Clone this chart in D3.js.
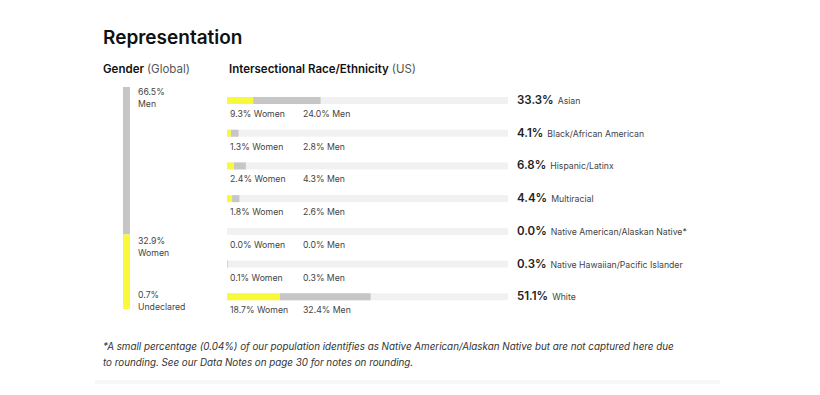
<!DOCTYPE html>
<html>
<head>
<meta charset="utf-8">
<script src="https://cdn.jsdelivr.net/npm/d3@7"></script>
<style>
  body { margin: 0; background: #fff; }
  svg { font-family: Inter, "Noto Sans", sans-serif; }
  .title { font-size: 19px; font-weight: 600; fill: #111; }
  .head { font-size: 11.5px; fill: #111; }
  .small { font-size: 8.7px; fill: #444; }
  .val { font-size: 11.5px; font-weight: 600; fill: #222; }
  .note { font-size: 9.8px; font-style: italic; fill: #333; }
</style>
</head>
<body>
<div id="chart"></div>
<script>
// gender (global)
var genderLabels = ["Men", "Women", "Undeclared"];
var genderValues = [66.5, 32.9, 0.7];

// race / ethnicity (US)
var races = ["Asian", "Black/African American", "Hispanic/Latinx", "Multiracial",
  "Native American/Alaskan Native*", "Native Hawaiian/Pacific Islander", "White"];
var women = [9.3, 1.3, 2.4, 1.8, 0.0, 0.1, 18.7];
var men = [24.0, 2.8, 4.3, 2.6, 0.0, 0.3, 32.4];
var totals = [33.3, 4.1, 6.8, 4.4, 0.0, 0.3, 51.1];

var width = 820, height = 395;
var yellow = "#f9f93c", gray = "#c6c6c6", track = "#f1f1f1";

var svg = d3.select("#chart").append("svg")
  .attr("width", width)
  .attr("height", height);

svg.append("rect").attr("x", 95).attr("y", 380).attr("width", 625).attr("height", 4)
  .attr("fill", "#f7f7f7");

svg.append("text").attr("class", "title").attr("x", 103).attr("y", 44).text("Representation");

var h1 = svg.append("text").attr("class", "head").attr("x", 103).attr("y", 73);
h1.append("tspan").attr("font-weight", 600).text("Gender ");
h1.append("tspan").attr("fill", "#555").text("(Global)");
var h2 = svg.append("text").attr("class", "head").attr("x", 229).attr("y", 73);
h2.append("tspan").attr("font-weight", 600).text("Intersectional Race/Ethnicity ");
h2.append("tspan").attr("fill", "#555").text("(US)");

// gender stacked vertical bar
var gy = d3.scaleLinear().domain([0, d3.sum(genderValues)]).range([87, 309]);
var acc = 0;
var gData = genderValues.map(function(v, i) {
  var d = {label: genderLabels[i], v: v, y0: acc};
  acc += v;
  return d;
});
svg.selectAll(".gbar").data(gData).enter().append("rect")
  .attr("class", "gbar")
  .attr("x", 123).attr("width", 7)
  .attr("y", function(d) { return gy(d.y0); })
  .attr("height", function(d) { return gy(d.y0 + d.v) - gy(d.y0); })
  .attr("fill", function(d, i) { return i == 0 ? gray : yellow; });

var labelY = [92, 241, 295];
var gl = svg.selectAll(".glab").data(gData).enter().append("text")
  .attr("class", "small")
  .attr("x", 138)
  .attr("y", function(d, i) { return labelY[i] + 3; });
gl.append("tspan").text(function(d) { return d.v.toFixed(1) + "%"; });
gl.append("tspan").attr("x", 138).attr("dy", 12).text(function(d) { return d.label; });

// race rows
var x = d3.scaleLinear().domain([0, 100]).range([227, 508]);
var y = d3.scaleBand().domain(races).range([84, 313]);

var rows = svg.selectAll(".row").data(races).enter().append("g")
  .attr("transform", function(d) { return "translate(0," + (y(d) + 13) + ")"; });

rows.append("rect").attr("x", x(0)).attr("y", 0).attr("height", 7)
  .attr("width", x(100) - x(0)).attr("fill", track);
rows.append("rect").attr("x", function(d, i) { return x(women[i]); }).attr("y", 0).attr("height", 7)
  .attr("width", function(d, i) { return x(women[i] + men[i]) - x(women[i]); }).attr("fill", gray);
rows.append("rect").attr("x", x(0)).attr("y", 0).attr("height", 7)
  .attr("width", function(d, i) { return x(women[i]) - x(0); }).attr("fill", yellow);

rows.append("text").attr("class", "small").attr("x", 230).attr("y", 20)
  .text(function(d, i) { return women[i].toFixed(1) + "% Women"; });
rows.append("text").attr("class", "small").attr("x", 303).attr("y", 20)
  .text(function(d, i) { return men[i].toFixed(1) + "% Men"; });

var rl = rows.append("text").attr("x", 517).attr("y", 7);
rl.append("tspan").attr("class", "val").text(function(d, i) { return totals[i].toFixed(1) + "%"; });
rl.append("tspan").attr("class", "small").attr("fill", "#333").attr("dx", 4).text(function(d) { return d; });

var note = svg.append("text").attr("class", "note").attr("x", 103).attr("y", 350);
note.append("tspan").text("*A small percentage (0.04%) of our population identifies as Native American/Alaskan Native but are not captured here due");
note.append("tspan").attr("x", 103).attr("dy", 16).text("to rounding. See our Data Notes on page 30 for notes on rounding.");
</script>
</body>
</html>
